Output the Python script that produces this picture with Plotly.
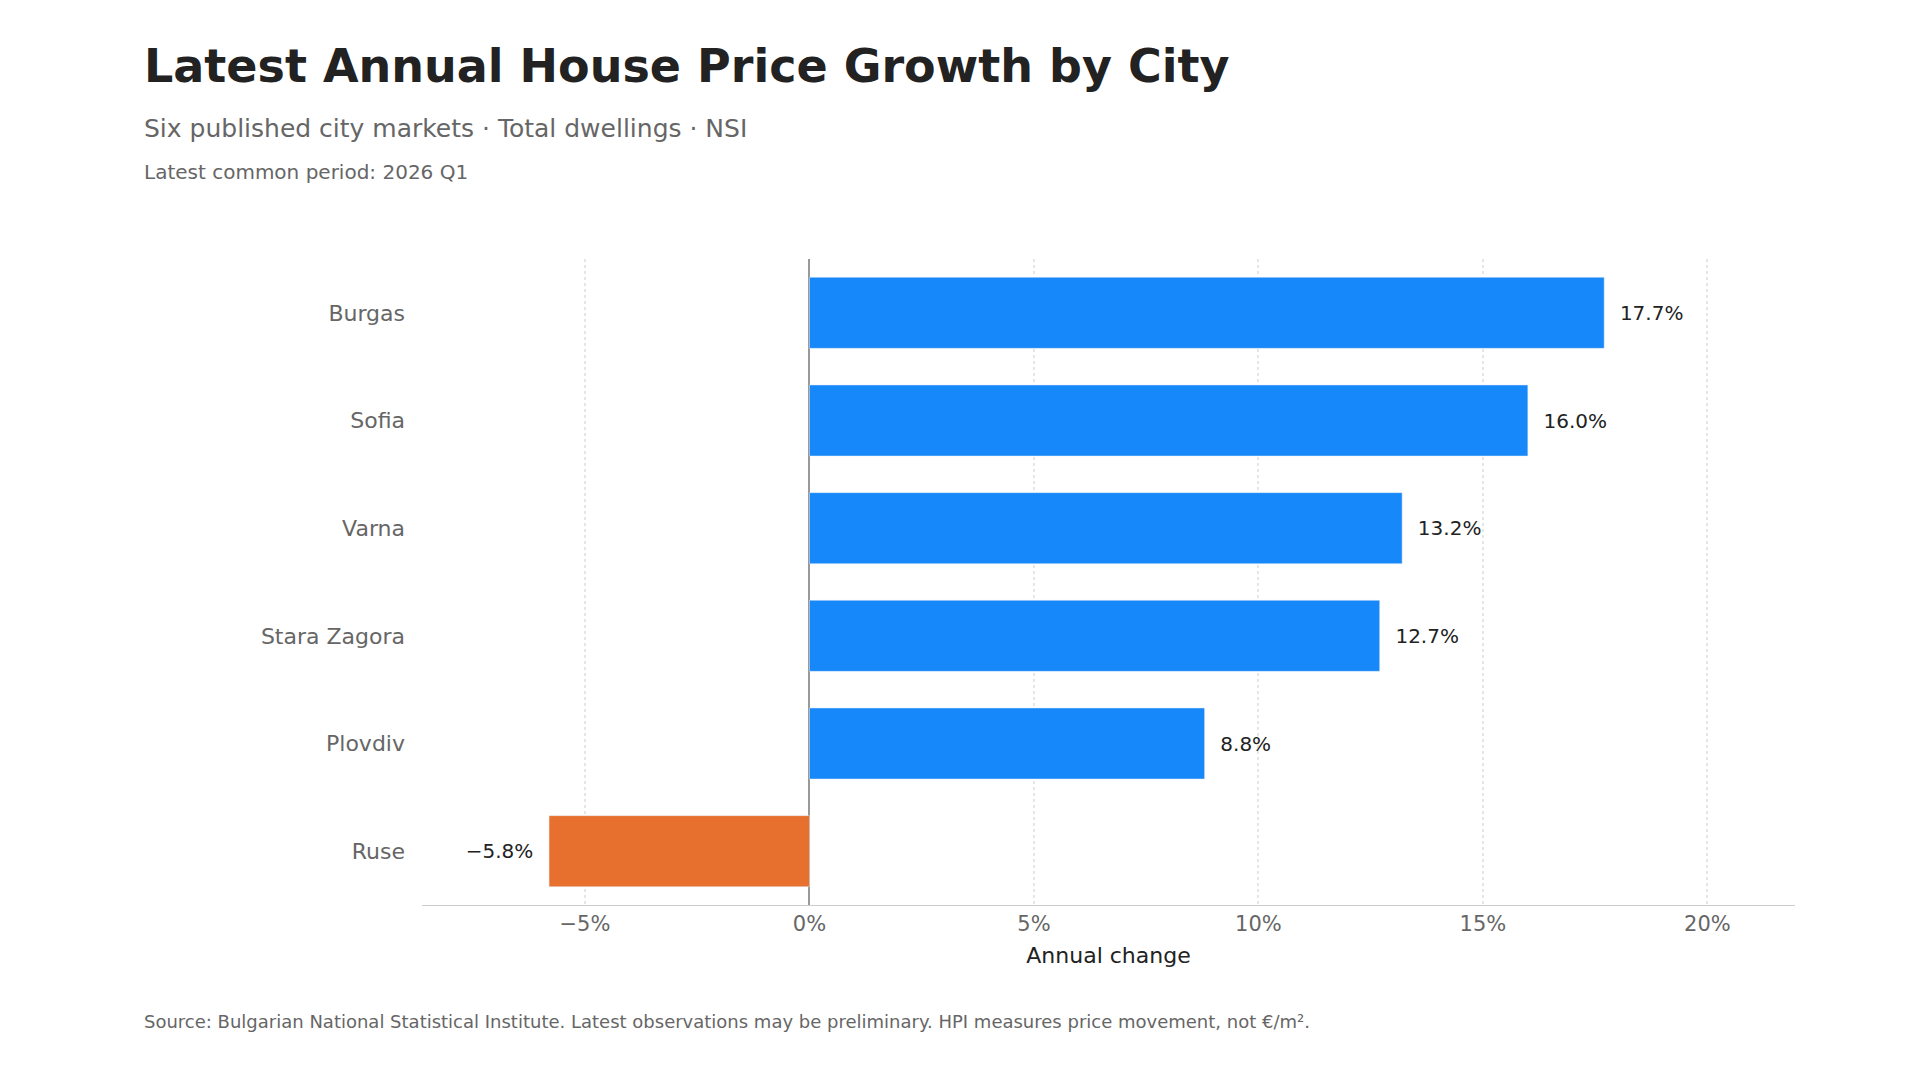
import plotly.graph_objects as go

cities = ["Burgas", "Sofia", "Varna", "Stara Zagora", "Plovdiv", "Ruse"]
growth = [17.7, 16.0, 13.2, 12.7, 8.8, -5.8]
tick_vals = [-5, 0, 5, 10, 15, 20]
tick_text = ["−5%", "0%", "5%", "10%", "15%", "20%"]

colors = ["#1688F9" if v >= 0 else "#E8702E" for v in growth]
labels = [("  " + f"{v:.1f}%" if v >= 0 else f"{v:.1f}%".replace("-", "−") + "  ") for v in growth]

fig = go.Figure(go.Bar(
    y=cities, x=growth, orientation="h", marker_color=colors, width=0.66,
    text=labels, textposition="outside", cliponaxis=False,
    textfont=dict(size=20, color="#222222"),
))

W, H = 1920, 1080
L, R, T, B = 414, 133, 251, 183
fig.update_layout(
    width=W, height=H, plot_bgcolor="white", paper_bgcolor="white",
    font=dict(family="DejaVu Sans"),
    margin=dict(l=L, r=R, t=T, b=B),
    showlegend=False,
    xaxis=dict(range=[-8.63, 21.95], tickvals=tick_vals, ticktext=tick_text,
               showgrid=True, gridcolor="#e6e6e6", griddash="dot", gridwidth=1.5,
               zeroline=True, zerolinecolor="#999999", zerolinewidth=2,
               showline=True, linecolor="#cccccc", ticks="",
               tickfont=dict(size=21, color="#666666"),
               title=dict(text="Annual change", font=dict(size=22, color="#222222"), standoff=12)),
    yaxis=dict(autorange="reversed", ticks="", ticklabelstandoff=16,
               tickfont=dict(size=22, color="#666666")),
)

pw = W - L - R
ph = H - T - B
def px(x): return (x - L) / pw
def py(y): return (H - B - y) / ph

for txt, x, y, size, color in [
    ("<b>Latest Annual House Price Growth by City</b>", 134, 58, 46, "#222222"),
    ("Six published city markets · Total dwellings · NSI", 134, 120, 25, "#666666"),
    ("Latest common period: 2026 Q1", 134, 164, 20, "#666666"),
    ("Source: Bulgarian National Statistical Institute. Latest observations may be preliminary. HPI measures price movement, not €/m².", 134, 1013, 18, "#666666"),
]:
    fig.add_annotation(text=txt, x=px(x), y=py(y), xref="paper", yref="paper",
                       xanchor="left", yanchor="middle", showarrow=False,
                       font=dict(size=size, color=color))

fig.write_html("out.html")
